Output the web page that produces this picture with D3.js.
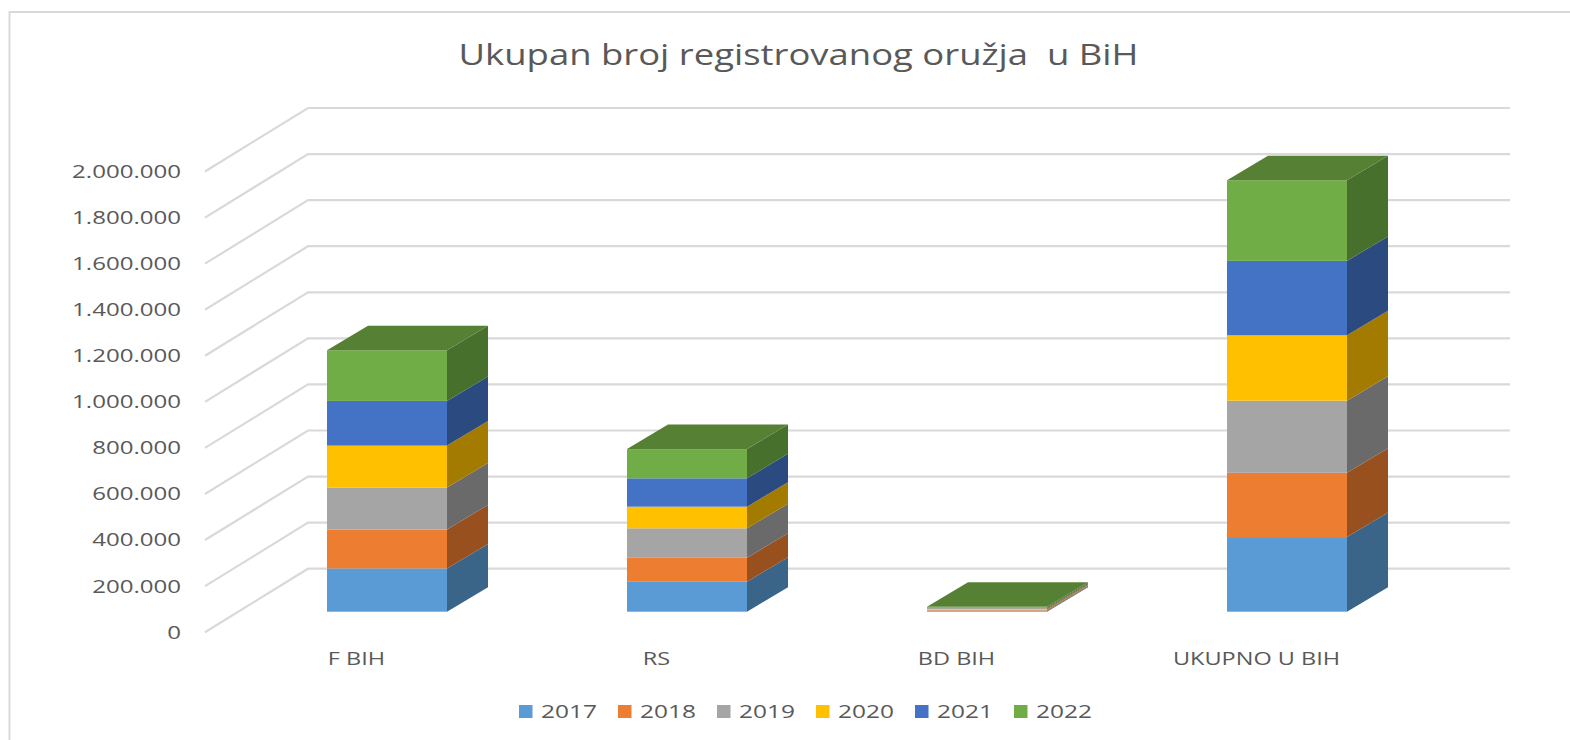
<!DOCTYPE html>
<html lang="en">
<head>
    <meta charset="utf-8">
    <title>Ukupan broj registrovanog oružja u BiH</title>
    <script src="https://cdn.jsdelivr.net/npm/d3@7"></script>
    <style>
        html, body { margin: 0; padding: 0; background: #fff; overflow: hidden; }
        svg { display: block; }
        text { font-family: "Open Sans", sans-serif; fill: #595959; white-space: pre; }
    </style>
</head>
<body>
<div id="container"></div>
<script type="text/javascript">
    var chartTitle = "Ukupan broj registrovanog oružja  u BiH";
    var categories = ["F BIH", "RS", "BD BIH", "UKUPNO U BIH"];
    var years = ["2017", "2018", "2019", "2020", "2021", "2022"];

    // one value per category
    var values2017 = [188000, 130000, 3000, 324000];
    var values2018 = [169000, 104000, 3000, 279000];
    var values2019 = [182000, 128000, 3000, 313000];
    var values2020 = [182000, 94000, 5000, 284000];
    var values2021 = [194000, 123000, 3000, 323000];
    var values2022 = [220000, 127000, 4000, 350000];
    var seriesValues = [values2017, values2018, values2019, values2020, values2021, values2022];

    var tickValues = [0, 200000, 400000, 600000, 800000, 1000000, 1200000, 1400000, 1600000, 1800000, 2000000];

    var frontColors = ["#5b9bd5", "#ed7d31", "#a5a5a5", "#ffc000", "#4472c4", "#70ad47"];
    var sideColors = ["#3a6589", "#98501f", "#6a6a6a", "#a37b00", "#2a4a80", "#48702d"];
    var topColor = "#568033";

    var width = 1570, height = 740;

    // the floor is drawn as an oblique projection, these are the offsets
    var wallDx = 103, wallDy = -63.5;
    var barShiftX = 32, barShiftY = -20.5;
    var barDx = 41, barDy = -24.5;

    var svg = d3.select("#container").append("svg")
        .attr("width", width)
        .attr("height", height);

    var y = d3.scaleLinear().domain([0, 2000000]).range([632.2, 171.5]);
    var x = d3.scaleBand().domain(categories).range([205, 1405]).paddingInner(0.6).paddingOuter(0.3);

    var line = d3.line();

    // stretch text sideways, the original picture is wider than it is tall
    function stretch(sel, k) {
        sel.each(function() {
            var len = this.getComputedTextLength();
            d3.select(this).attr("textLength", len * k).attr("lengthAdjust", "spacingAndGlyphs");
        });
    }

    // chart border, only top and left are visible
    svg.append("path")
        .attr("d", line([[9.5, height], [9.5, 12], [width, 12]]))
        .style("fill", "none")
        .style("stroke", "#d9d9d9")
        .style("stroke-width", 2);

    var title = svg.append("text")
        .attr("x", 798.5)
        .attr("y", 65)
        .attr("text-anchor", "middle")
        .style("font-size", "30px")
        .text(chartTitle);
    stretch(title, 1.215);

    // gridlines: side wall and back wall
    svg.append("g").selectAll("path")
        .data(tickValues)
        .enter().append("path")
        .attr("d", function(d) {
            return line([[205, y(d)], [205 + wallDx, y(d) + wallDy], [205 + wallDx + 1202, y(d) + wallDy]]);
        })
        .style("fill", "none")
        .style("stroke", "#d9d9d9")
        .style("stroke-width", 2.2);

    // value axis
    var yAxis = d3.axisLeft(y)
        .tickValues(tickValues)
        .tickSize(0)
        .tickPadding(24)
        .tickFormat(function(d) { return d3.format(",")(d).replace(/,/g, "."); });

    var yAxisG = svg.append("g")
        .attr("transform", "translate(205,0)")
        .call(yAxis);
    yAxisG.select(".domain").remove();
    yAxisG.selectAll("text").style("font-size", "18.5px").style("font-family", null);
    stretch(yAxisG.selectAll("text"), 1.3);

    // category axis
    var xAxis = d3.axisBottom(x).tickSize(0).tickPadding(0);
    var xAxisG = svg.append("g")
        .attr("transform", "translate(1.5,652)")
        .call(xAxis);
    xAxisG.select(".domain").remove();
    xAxisG.selectAll("text").style("font-size", "18.5px").style("font-family", null);
    stretch(xAxisG.selectAll("text"), 1.27);

    // stacked bars
    var rows = categories.map(function(c, i) {
        var row = { category: c };
        years.forEach(function(yr, j) { row[yr] = seriesValues[j][i]; });
        return row;
    });
    var stacked = d3.stack().keys(years)(rows);

    var bars = svg.append("g");
    stacked.forEach(function(layer, j) {
        layer.forEach(function(d) {
            var x0 = x(d.data.category) + barShiftX;
            var x1 = x0 + x.bandwidth();
            var yLow = y(d[0]) + barShiftY;
            var yHigh = y(d[1]) + barShiftY;

            bars.append("path")
                .attr("d", line([[x1, yLow], [x1 + barDx, yLow + barDy], [x1 + barDx, yHigh + barDy], [x1, yHigh]]) + "Z")
                .style("fill", sideColors[j]);

            bars.append("rect")
                .attr("x", x0)
                .attr("y", yHigh)
                .attr("width", x.bandwidth())
                .attr("height", yLow - yHigh)
                .style("fill", frontColors[j]);

            if (j == years.length - 1) {
                bars.append("path")
                    .attr("d", line([[x0, yHigh], [x0 + barDx, yHigh + barDy], [x1 + barDx, yHigh + barDy], [x1, yHigh]]) + "Z")
                    .style("fill", topColor);
            }
        });
    });

    // legend
    var legendX = d3.scalePoint().domain(years).range([519, 1014]);
    var legend = svg.append("g").selectAll("g")
        .data(years)
        .enter().append("g")
        .attr("transform", function(d) { return "translate(" + legendX(d) + ",711.5)"; });

    legend.append("rect")
        .attr("x", 0)
        .attr("y", -6.5)
        .attr("width", 13.5)
        .attr("height", 13)
        .style("fill", function(d, i) { return frontColors[i]; });

    var legendText = legend.append("text")
        .attr("x", 22)
        .attr("dy", "0.35em")
        .style("font-size", "18.5px")
        .text(function(d) { return d; });
    stretch(legendText, 1.32);
</script>
</body>
</html>
